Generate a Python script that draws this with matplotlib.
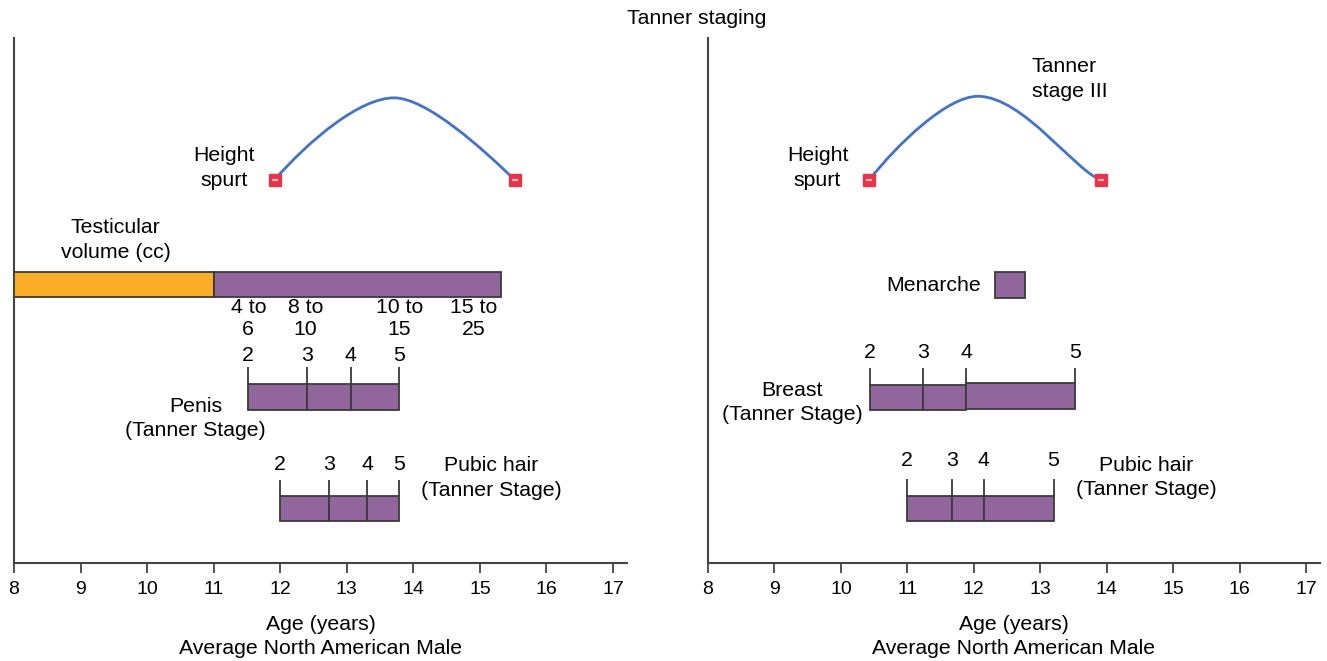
import matplotlib
matplotlib.use("Agg")
import matplotlib.pyplot as plt
from matplotlib.path import Path
from matplotlib.patches import PathPatch

plt.rcParams['font.family'] = ['Liberation Sans', 'DejaVu Sans']

# ---------------- data ----------------
age_ticks = list(range(8, 18))
stage_labels = ["2", "3", "4", "5"]

# Male panel
testis_prepubertal = (8.0, 11.0)
testis_pubertal = (11.0, 15.32)
testis_vol_labels = ["4 to\n6", "8 to\n10", "10 to\n15", "15 to\n25"]
testis_vol_ages = [11.52, 12.38, 13.79, 14.91]
penis_stage_ages = [11.52, 12.40, 13.06, 13.79]
pubic_m_stage_ages = [11.99, 12.74, 13.31, 13.79]
# height spurt: start, control, control, peak, control, control, end (Bezier)
spurt_m_x = [11.915, 12.45, 13.20, 13.71, 14.20, 15.05, 15.52]
spurt_m_y = [7.30, 8.07, 8.86, 8.86, 8.86, 7.88, 7.30]

# Female panel
menarche = (12.32, 12.77)
breast_stage_ages = [10.44, 11.24, 11.89, 13.52]
pubic_f_stage_ages = [10.99, 11.67, 12.15, 13.20]
spurt_f_x = [10.43, 10.85, 11.60, 12.06, 12.75, 13.55, 13.92]
spurt_f_y = [7.30, 7.98, 8.89, 8.89, 8.89, 7.42, 7.30]

# ---------------- style ----------------
PURPLE = '#90669D'
ORANGE = '#F9AD26'
EDGE = '#3a3a3a'
BLUE = '#4472C4'
RED = '#E8344A'
FS = 15.3
TICK_FS = 14
LS = 1.38
BAR_H = 0.49

fig = plt.figure(figsize=(13.27, 6.61), dpi=100)
axL = fig.add_axes([14/1327, 1-563/661, (627-14)/1327, (563-38)/661])
axR = fig.add_axes([708/1327, 1-563/661, (1320-708)/1327, (563-38)/661])

for ax in (axL, axR):
    ax.set_xlim(8, 17.21)
    ax.set_ylim(0, 10)
    for s in ('top', 'right'):
        ax.spines[s].set_visible(False)
    for s in ('left', 'bottom'):
        ax.spines[s].set_color('#444444')
        ax.spines[s].set_linewidth(1.5)
    ax.set_yticks([])
    ax.set_xticks(age_ticks)
    ax.set_xticklabels([str(a) for a in age_ticks])
    ax.tick_params(axis='x', direction='out', length=7, width=1.3,
                   color='#444444', labelsize=TICK_FS, pad=6)
    ax.patch.set_visible(False)


def stage_bar(ax, ages, yc, tick_len, label_y, yoffs=None):
    for i in range(len(ages) - 1):
        off = 0 if yoffs is None else yoffs[i]
        ax.barh(yc + off, ages[i+1] - ages[i], left=ages[i], height=BAR_H,
                color=PURPLE, edgecolor=EDGE, linewidth=1.3, zorder=3)
    top = yc + BAR_H / 2
    ax.vlines(ages, top, top + tick_len, color=EDGE, linewidth=1.3, zorder=3)
    for a, s in zip(ages, stage_labels):
        ax.text(a, label_y, s, ha='center', va='center', fontsize=FS)


def spurt(ax, xs, ys):
    verts = list(zip(xs, ys))
    codes = [Path.MOVETO] + [Path.CURVE4] * 6
    ax.add_patch(PathPatch(Path(verts, codes), facecolor='none',
                           edgecolor=BLUE, linewidth=2.0, zorder=4))
    ex = [xs[0], xs[-1]]
    ey = [ys[0], ys[-1]]
    ax.plot(ex, ey, 's', ms=8.5, color=RED, mec=RED, zorder=5)
    ax.plot(ex, ey, '_', ms=4, color='#F7B5B5', mew=1.6, zorder=6)


# ---------- left panel ----------
spurt(axL, spurt_m_x, spurt_m_y)
axL.text(11.16, 7.53, "Height\nspurt", ha='center', va='center',
         fontsize=FS, linespacing=LS)

axL.barh(5.305, testis_prepubertal[1] - testis_prepubertal[0],
         left=testis_prepubertal[0], height=BAR_H, color=ORANGE,
         edgecolor=EDGE, linewidth=1.3, zorder=3)
axL.barh(5.305, testis_pubertal[1] - testis_pubertal[0],
         left=testis_pubertal[0], height=BAR_H, color=PURPLE,
         edgecolor=EDGE, linewidth=1.3, zorder=3)
axL.text(9.53, 6.15, "Testicular\nvolume (cc)", ha='center', va='center',
         fontsize=FS, linespacing=LS)
for a, s in zip(testis_vol_ages, testis_vol_labels):
    axL.text(a, 4.66, s, ha='center', va='center', fontsize=FS,
             linespacing=1.2)

stage_bar(axL, penis_stage_ages, 3.16, 0.32, 3.96)
axL.text(10.727, 2.75, "Penis\n(Tanner Stage)", ha='center', va='center',
         fontsize=FS, linespacing=LS)

stage_bar(axL, pubic_m_stage_ages, 1.038, 0.30, 1.87)
axL.text(15.17, 1.62, "Pubic hair\n(Tanner Stage)", ha='center',
         va='center', fontsize=FS, linespacing=LS)

# ---------- right panel ----------
spurt(axR, spurt_f_x, spurt_f_y)
axR.text(9.648, 7.53, "Height\nspurt", ha='center', va='center',
         fontsize=FS, linespacing=LS)
axR.text(12.87, 9.22, "Tanner\nstage III", ha='left', va='center',
         multialignment='left', fontsize=FS, linespacing=LS)

axR.barh(5.30, menarche[1] - menarche[0], left=menarche[0], height=BAR_H,
         color=PURPLE, edgecolor=EDGE, linewidth=1.3, zorder=3)
axR.text(12.11, 5.295, "Menarche", ha='right', va='center', fontsize=FS)

stage_bar(axR, breast_stage_ages, 3.15, 0.32, 4.0, yoffs=[0, 0, 0.035])
axR.text(9.264, 3.06, "Breast\n(Tanner Stage)", ha='center', va='center',
         fontsize=FS, linespacing=LS)

stage_bar(axR, pubic_f_stage_ages, 1.038, 0.31, 1.96)
axR.text(14.60, 1.63, "Pubic hair\n(Tanner Stage)", ha='center',
         va='center', fontsize=FS, linespacing=LS)

# ---------- labels ----------
for cx in ((14 + 627) / 2, (708 + 1320) / 2):
    fig.text(cx / 1327, 1 - 625 / 661, "Age (years)", ha='center',
             va='center', fontsize=FS)
    fig.text(cx / 1327, 1 - 649 / 661, "Average North American Male",
             ha='center', va='center', fontsize=FS)

fig.text(697 / 1327, 1 - 18 / 661, "Tanner staging", ha='center',
         va='center', fontsize=FS)

fig.savefig("out.png", dpi=100, facecolor='white')
